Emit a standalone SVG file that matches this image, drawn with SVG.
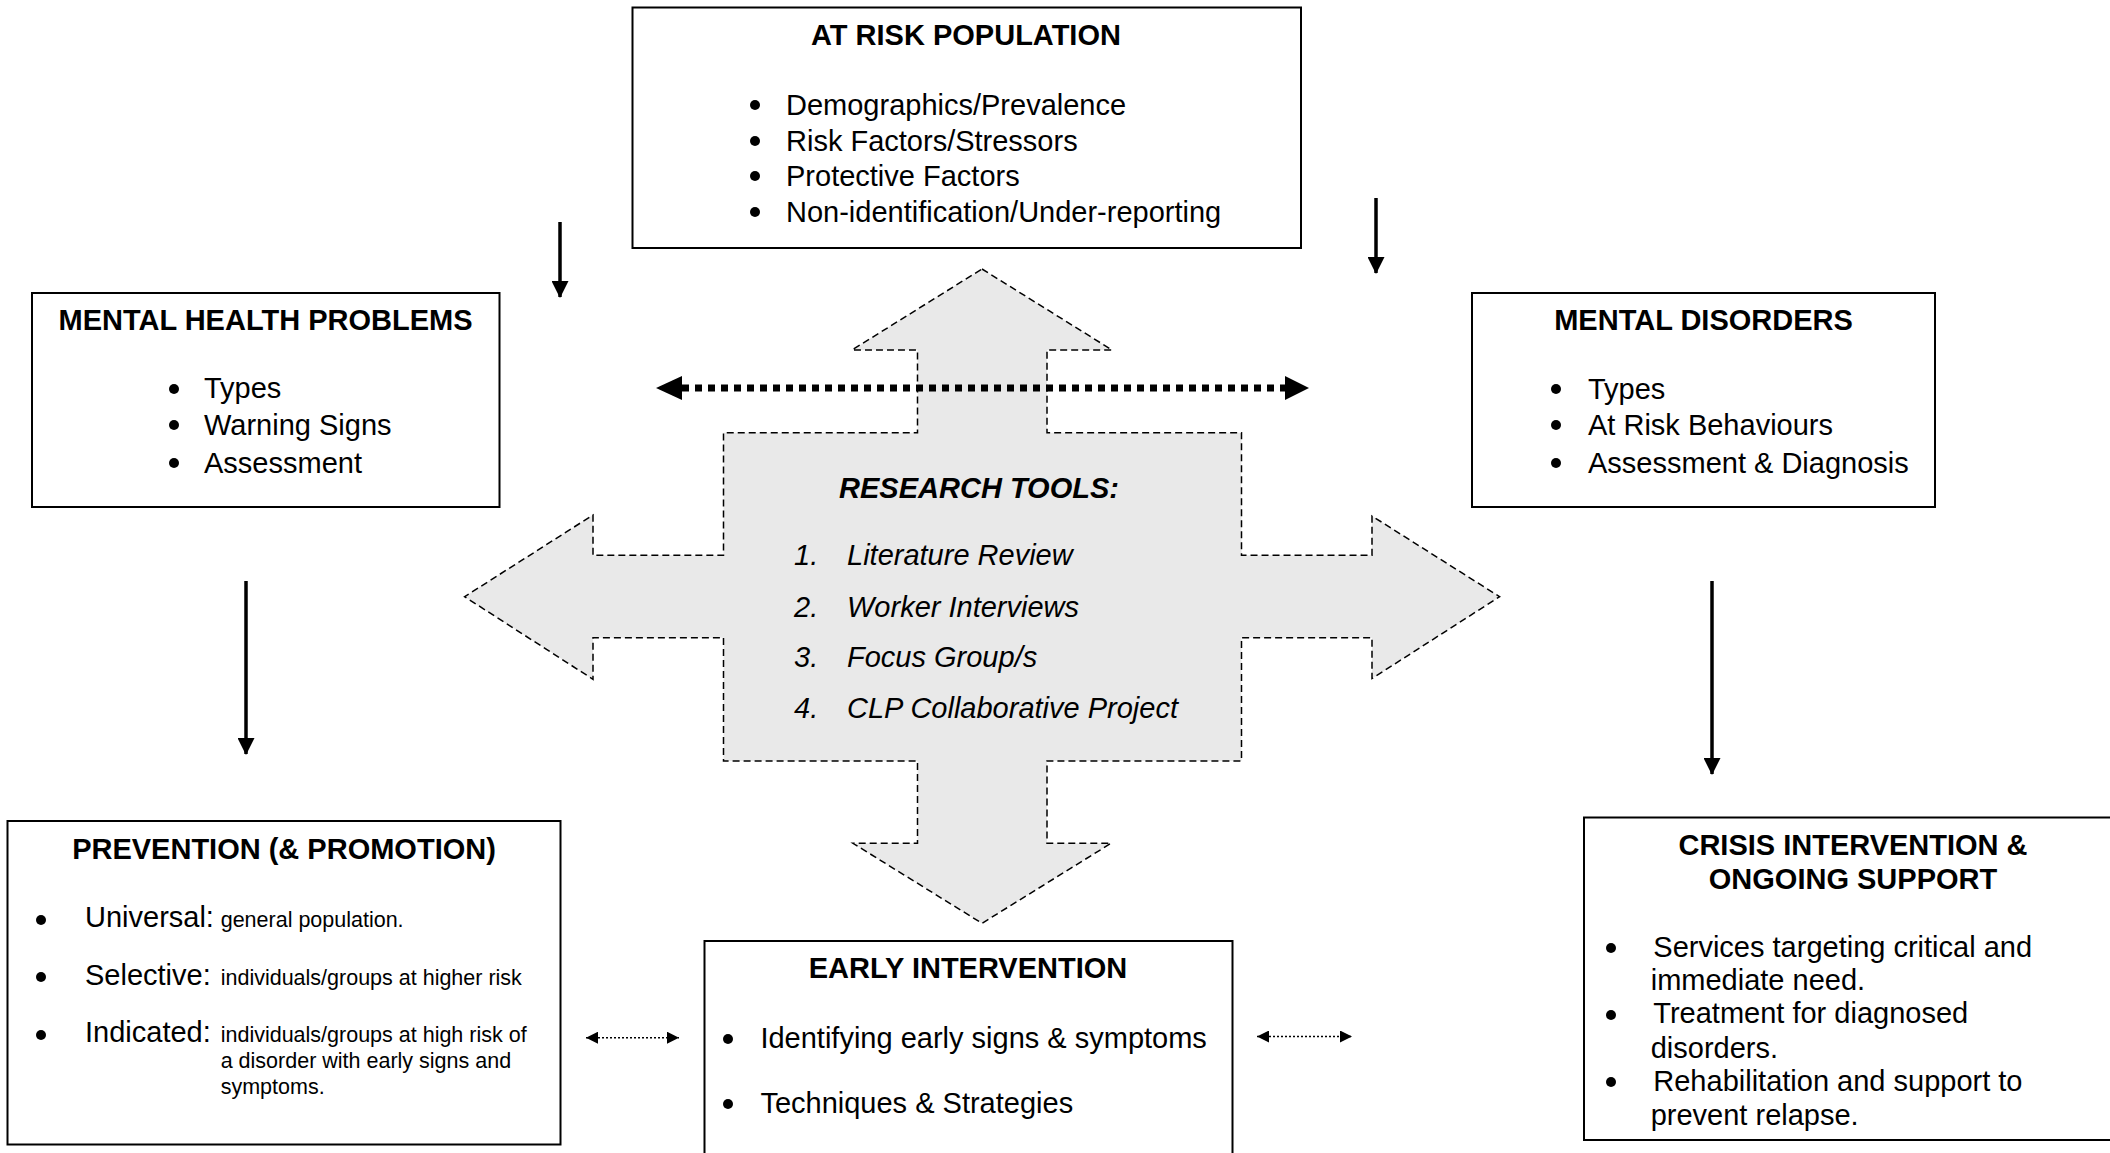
<svg xmlns="http://www.w3.org/2000/svg" width="2110" height="1153" viewBox="0 0 2110 1153">
<style>
text{font-family:"Liberation Sans",Arial,sans-serif;fill:#000}
.t{font-size:29px;font-weight:bold;text-anchor:middle}
.b{font-size:29px}
.s{font-size:21.5px}
.it{font-size:29px;font-style:italic}
.box{fill:#fff;stroke:#000;stroke-width:2}
.sol{stroke:#000;stroke-width:3.5;fill:none}
circle{fill:#000}
</style>
<defs>
<marker id="ah" markerWidth="17" markerHeight="17" refX="16" refY="8.5" orient="auto" markerUnits="userSpaceOnUse"><path d="M0,0 L17,8.5 L0,17 Z" fill="#000"/></marker>
<marker id="sm" markerWidth="12" markerHeight="12" refX="12" refY="6" orient="auto-start-reverse" markerUnits="userSpaceOnUse"><path d="M0,0 L12,6 L0,12 Z" fill="#000"/></marker>
</defs>

<g id="research-tools">
<path d="M982 269 L1112 350 L1047 350 L1047 432.7 L1241.5 432.7 L1241.5 555.3 L1372 555.3 L1372 516 L1499.6 596.7 L1372 678.5 L1372 637.7 L1241.5 637.7 L1241.5 761 L1047 761 L1047 843.3 L1111 843.3 L982 923.3 L853 843.3 L917.5 843.3 L917.5 761 L723.5 761 L723.5 637.7 L593 637.7 L593 679.3 L464.6 596.7 L593 515 L593 555.3 L723.5 555.3 L723.5 432.7 L917.5 432.7 L917.5 350 L852 350 Z" fill="#e9e9e9" stroke="#000" stroke-width="1.5" stroke-dasharray="7 4"/>
<text x="979" y="498" class="t" font-style="italic">RESEARCH TOOLS:</text>
<text x="794" y="565" class="it">1.</text><text x="847" y="565" class="it">Literature Review</text>
<text x="794" y="616.7" class="it">2.</text><text x="847" y="616.7" class="it">Worker Interviews</text>
<text x="794" y="667.3" class="it">3.</text><text x="847" y="667.3" class="it">Focus Group/s</text>
<text x="794" y="718.3" class="it">4.</text><text x="847" y="718.3" class="it">CLP Collaborative Project</text>
</g>

<g id="at-risk-population">
<rect x="632.5" y="7.5" width="668.5" height="240.5" class="box"/>
<text x="966" y="45" class="t">AT RISK POPULATION</text>
<circle cx="755" cy="105" r="5"/><text x="786" y="115" class="b">Demographics/Prevalence</text>
<circle cx="755" cy="141" r="5"/><text x="786" y="150.7" class="b">Risk Factors/Stressors</text>
<circle cx="755" cy="176" r="5"/><text x="786" y="186" class="b">Protective Factors</text>
<circle cx="755" cy="212" r="5"/><text x="786" y="221.7" class="b">Non-identification/Under-reporting</text>
</g>

<g id="mental-health-problems">
<rect x="32" y="293" width="467.5" height="214" class="box"/>
<text x="265.5" y="330" class="t">MENTAL HEALTH PROBLEMS</text>
<circle cx="174" cy="389" r="5"/><text x="204" y="398.3" class="b">Types</text>
<circle cx="174" cy="425" r="5"/><text x="204" y="435" class="b">Warning Signs</text>
<circle cx="174" cy="463" r="5"/><text x="204" y="473.3" class="b">Assessment</text>
</g>

<g id="mental-disorders">
<rect x="1472" y="293" width="463" height="214" class="box"/>
<text x="1703.5" y="330" class="t">MENTAL DISORDERS</text>
<circle cx="1556" cy="389" r="5"/><text x="1588" y="399.3" class="b">Types</text>
<circle cx="1556" cy="425" r="5"/><text x="1588" y="435" class="b">At Risk Behaviours</text>
<circle cx="1556" cy="463" r="5"/><text x="1588" y="473.3" class="b">Assessment &amp; Diagnosis</text>
</g>

<g id="prevention">
<rect x="7.5" y="821" width="553" height="323.5" class="box"/>
<text x="284" y="859.3" class="t">PREVENTION (&amp; PROMOTION)</text>
<circle cx="41" cy="920" r="5"/><text x="85" y="927.3" class="b">Universal:</text><text x="220.7" y="927.3" class="s">general population.</text>
<circle cx="41" cy="977" r="5"/><text x="85" y="985" class="b">Selective:</text><text x="220.7" y="985" class="s">individuals/groups at higher risk</text>
<circle cx="41" cy="1035" r="5"/><text x="85" y="1042.3" class="b">Indicated:</text><text x="220.7" y="1042.3" class="s">individuals/groups at high risk of</text>
<text x="220.7" y="1068.3" class="s">a disorder with early signs and</text>
<text x="220.7" y="1094" class="s">symptoms.</text>
</g>

<g id="early-intervention">
<rect x="704.5" y="941" width="528" height="230" class="box"/>
<text x="968" y="978.3" class="t">EARLY INTERVENTION</text>
<circle cx="728" cy="1039" r="5"/><text x="760.4" y="1048.3" class="b">Identifying early signs &amp; symptoms</text>
<circle cx="728" cy="1104" r="5"/><text x="760.4" y="1113.3" class="b">Techniques &amp; Strategies</text>
</g>

<g id="crisis-intervention">
<rect x="1584" y="817.5" width="540" height="322.5" class="box"/>
<text x="1853" y="855" class="t">CRISIS INTERVENTION &amp;</text>
<text x="1853" y="889.3" class="t">ONGOING SUPPORT</text>
<circle cx="1611" cy="948" r="5"/><text x="1653.3" y="956.7" class="b">Services targeting critical and</text>
<text x="1650.7" y="990" class="b">immediate need.</text>
<circle cx="1611" cy="1015" r="5"/><text x="1653.3" y="1023.3" class="b">Treatment for diagnosed</text>
<text x="1650.7" y="1058.3" class="b">disorders.</text>
<circle cx="1611" cy="1082" r="5"/><text x="1653.3" y="1090.7" class="b">Rehabilitation and support to</text>
<text x="1650.7" y="1125" class="b">prevent relapse.</text>
</g>

<g id="connectors">
<line x1="560" y1="222" x2="560" y2="297" class="sol" marker-end="url(#ah)"/>
<line x1="1376" y1="198" x2="1376" y2="273" class="sol" marker-end="url(#ah)"/>
<line x1="246" y1="581" x2="246" y2="754" class="sol" marker-end="url(#ah)"/>
<line x1="1712" y1="581" x2="1712" y2="774" class="sol" marker-end="url(#ah)"/>
<line x1="682" y1="388" x2="1285" y2="388" stroke="#000" stroke-width="7" stroke-dasharray="7 6"/>
<path d="M656 388 L682 376 L682 400 Z" fill="#000"/>
<path d="M1309 388 L1285 376 L1285 400 Z" fill="#000"/>
<line x1="586" y1="1037.7" x2="679" y2="1037.7" stroke="#000" stroke-width="1.5" stroke-dasharray="2 2" marker-start="url(#sm)" marker-end="url(#sm)"/>
<line x1="1257" y1="1036.5" x2="1352" y2="1036.5" stroke="#000" stroke-width="1.5" stroke-dasharray="2 2" marker-start="url(#sm)" marker-end="url(#sm)"/>
</g>
</svg>
